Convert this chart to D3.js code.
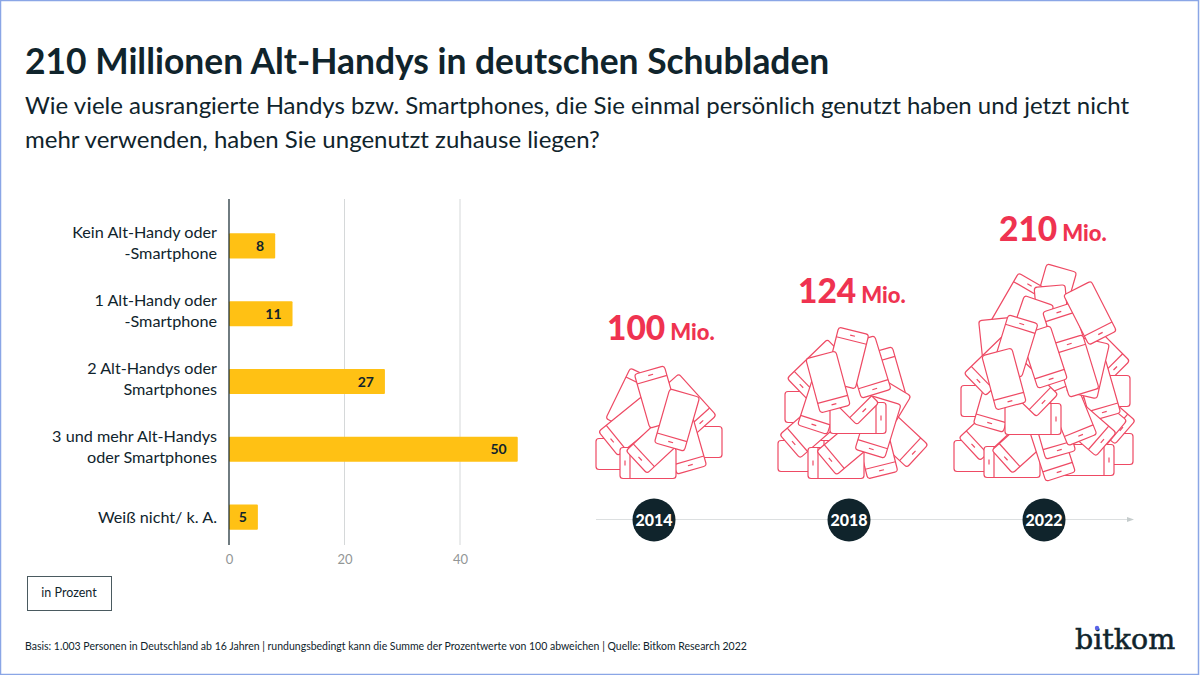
<!DOCTYPE html>
<html lang="de">
<head>
<meta charset="utf-8">
<title>210 Millionen Alt-Handys</title>
<script src="https://cdn.jsdelivr.net/npm/d3@7"></script>
<style>
  html, body { margin: 0; padding: 0; background: #fff; }
  svg { display: block; }
  text { font-family: Lato, "Noto Sans", sans-serif; fill: #10242c; }
</style>
</head>
<body>
<svg id="chart" width="1200" height="675"></svg>
<script>
  const categories = [
    ['Kein Alt-Handy oder', '-Smartphone'],
    ['1 Alt-Handy oder', '-Smartphone'],
    ['2 Alt-Handys oder', 'Smartphones'],
    ['3 und mehr Alt-Handys', 'oder Smartphones'],
    ['Weiß nicht/ k. A.']
  ];
  const shares = [8, 11, 27, 50, 5];
  const xTicks = [0, 20, 40];
  const years = ['2014', '2018', '2022'];
  const totals = [100, 124, 210];

  const DARK = '#10242c';
  const RED = '#ef3350';
  const YELLOW = '#ffc114';

  // illustration only: phones back to front as [centre x, centre y, rotation]
  const pile2014 = [
    [624, 454, -90], [694, 442, 90], [632, 400, 206], [686, 405, -42], [630, 426, 51],
    [684, 443, -16], [648, 463, 90], [657, 443, 47], [657, 397, 164], [677, 420, 16]
  ];
  const pile2018 = [
    [806, 456, -90], [813, 407, -90], [897, 437, -47], [885, 378, 164], [879, 395, 121],
    [818, 370, 46], [811, 428, 49], [821, 403, 18], [876, 448, -14], [836, 463, 90],
    [848, 445, 50], [878, 427, 17], [858, 418, -90], [848, 394, -45], [868, 367, -17],
    [847, 358, 194], [828, 382, -15]
  ];
  const pile2022 = [
    [1054, 295, 16], [1018, 305, 210], [1052, 314, -5], [1030, 327, 19], [997, 347, -6],
    [1099, 352, -45], [1102, 391, 90], [1105, 449, 90], [1104, 414, -49], [982, 456, -90],
    [989, 401, -90], [990, 430, 47], [1097, 432, 40], [1086, 460, -90], [1012, 462, 90],
    [1023, 443, 48], [1052, 450, -18], [1053, 428, -16], [996, 401, 16], [1055, 391, 118],
    [1098, 390, -16], [1085, 426, -49], [1072, 414, -22], [1033, 419, -90], [1066, 334, 162],
    [1088, 368, 13], [1076, 366, 163], [995, 365, 46], [1027, 386, -46], [1044, 357, -18],
    [1015, 346, 197], [1004, 379, -15], [1090, 313, -27]
  ];
  const piles = [pile2014, pile2018, pile2022];

  const svg = d3.select('#chart');

  function drawFrame () {
    svg.append('rect')
      .attr('x', 0.5).attr('y', 0.5)
      .attr('width', 1198).attr('height', 674)
      .attr('fill', '#fff')
      .attr('stroke', '#8aa6e6')
      .attr('stroke-width', 1.5);
  }

  function drawHeader () {
    svg.append('text')
      .attr('x', 25).attr('y', 74)
      .attr('font-size', 35.4).attr('font-weight', 700)
      .text('210 Millionen Alt-Handys in deutschen Schubladen');
    const subtitle = [
      'Wie viele ausrangierte Handys bzw. Smartphones, die Sie einmal persönlich genutzt haben und jetzt nicht',
      'mehr verwenden, haben Sie ungenutzt zuhause liegen?'
    ];
    subtitle.forEach(function (line, i) {
      svg.append('text')
        .attr('x', 25).attr('y', 114 + i * 34)
        .attr('font-size', 24)
        .text(line);
    });
  }

  function drawBars () {
    const x = d3.scaleLinear().domain([0, 40]).range([229, 460]);
    const y = d3.scaleBand()
      .domain(d3.range(categories.length))
      .range([211, 552])
      .paddingInner(0.63)
      .paddingOuter(0.33);

    const axis = d3.axisBottom(x).tickValues(xTicks).tickSize(0).tickPadding(0);
    const axisGroup = svg.append('g').attr('transform', 'translate(0,552)').call(axis);
    axisGroup.select('.domain').remove();
    axisGroup.selectAll('text')
      .attr('y', 3)
      .attr('dy', '0.71em')
      .attr('font-size', 13)
      .style('font-family', 'Lato, sans-serif')
      .style('fill', '#929696');

    svg.append('g').selectAll('line')
      .data(xTicks.slice(1))
      .join('line')
      .attr('x1', function (d) { return x(d); })
      .attr('x2', function (d) { return x(d); })
      .attr('y1', 199).attr('y2', 545)
      .attr('stroke', '#d5d8d9');

    svg.append('g').selectAll('rect')
      .data(shares)
      .join('rect')
      .attr('x', x(0))
      .attr('y', function (d, i) { return y(i); })
      .attr('width', function (d) { return x(d) - x(0); })
      .attr('height', y.bandwidth())
      .attr('rx', 1)
      .attr('fill', YELLOW);

    svg.append('line')
      .attr('x1', x(0)).attr('x2', x(0))
      .attr('y1', 199).attr('y2', 545)
      .attr('stroke', DARK).attr('stroke-width', 1.2);

    svg.append('g').selectAll('text')
      .data(shares)
      .join('text')
      .attr('x', function (d) { return x(d) - 11; })
      .attr('y', function (d, i) { return y(i) + y.bandwidth() / 2 + 5; })
      .attr('text-anchor', 'end')
      .attr('font-size', 14).attr('font-weight', 700)
      .text(function (d) { return d; });

    categories.forEach(function (lines, i) {
      const mid = y(i) + y.bandwidth() / 2;
      const shift = lines.length > 1 ? 3 : 6;
      lines.forEach(function (line, k) {
        svg.append('text')
          .attr('x', 217)
          .attr('y', mid + shift + (k - (lines.length - 1) / 2) * 21)
          .attr('text-anchor', 'end')
          .attr('font-size', 16.2)
          .text(line);
      });
    });
  }

  function drawPhone (parent, placement) {
    const w = 31;
    const h = 56;
    const g = parent.append('g')
      .attr('transform', 'translate(' + placement[0] + ',' + placement[1] + ') rotate(' + placement[2] + ')');
    g.append('rect')
      .attr('x', -w / 2).attr('y', -h / 2)
      .attr('width', w).attr('height', h)
      .attr('rx', 3)
      .attr('fill', '#fff');
    g.append('line')
      .attr('x1', -w / 2).attr('x2', w / 2)
      .attr('y1', h / 2 - 10).attr('y2', h / 2 - 10);
    g.append('line')
      .attr('x1', -2.5).attr('x2', 2.5)
      .attr('y1', h / 2 - 5).attr('y2', h / 2 - 5);
  }

  function drawTimeline () {
    const x = d3.scalePoint().domain(years).range([654, 1044]);

    const totalLabelX = [607, 798, 999];
    const totalLabelY = [340, 303, 241];

    piles.forEach(function (pile) {
      const group = svg.append('g')
        .attr('stroke', '#ee4a64')
        .attr('stroke-width', 1.2);
      pile.forEach(function (placement) {
        drawPhone(group, placement);
      });
    });

    totals.forEach(function (total, i) {
      const label = svg.append('text')
        .attr('x', totalLabelX[i]).attr('y', totalLabelY[i])
        .style('fill', RED)
        .attr('font-weight', 900);
      label.append('tspan').attr('font-size', 33.5).text(total);
      label.append('tspan').attr('font-size', 22).attr('dx', 5).text('Mio.');
    });

    svg.append('line')
      .attr('x1', 596).attr('x2', 1127)
      .attr('y1', 519.5).attr('y2', 519.5)
      .attr('stroke', '#dcdfe0');
    svg.append('path')
      .attr('d', 'M1127,517 L1134,519.5 L1127,522 Z')
      .attr('fill', '#c5cccc');

    const marks = svg.append('g').selectAll('g')
      .data(years)
      .join('g')
      .attr('transform', function (d) { return 'translate(' + x(d) + ',520)'; });
    marks.append('circle').attr('r', 21.5).attr('fill', DARK);
    marks.append('text')
      .attr('y', 6)
      .attr('text-anchor', 'middle')
      .attr('font-size', 16).attr('font-weight', 900)
      .style('fill', '#fff')
      .text(function (d) { return d; });
  }

  function drawFooter () {
    svg.append('rect')
      .attr('x', 27.5).attr('y', 576.5)
      .attr('width', 84).attr('height', 34)
      .attr('fill', 'none')
      .attr('stroke', '#4a5a60');
    svg.append('text')
      .attr('x', 69).attr('y', 597)
      .attr('text-anchor', 'middle')
      .attr('font-size', 12.5)
      .text('in Prozent');
    svg.append('text')
      .attr('x', 25).attr('y', 650)
      .attr('font-size', 10.5)
      .text('Basis: 1.003 Personen in Deutschland ab 16 Jahren | rundungsbedingt kann die Summe der Prozentwerte von 100 abweichen | Quelle: Bitkom Research 2022');
    svg.append('text')
      .attr('x', 1075).attr('y', 649)
      .style('font-family', '"DejaVu Serif", serif')
      .attr('font-size', 28.5)
      .attr('stroke', DARK).attr('stroke-width', 0.5)
      .text('bitkom');
    svg.append('circle')
      .attr('cx', 1097).attr('cy', 628)
      .attr('r', 2.2)
      .attr('fill', '#5a63e8');
  }

  drawFrame();
  drawHeader();
  drawBars();
  drawTimeline();
  drawFooter();
</script>
</body>
</html>
